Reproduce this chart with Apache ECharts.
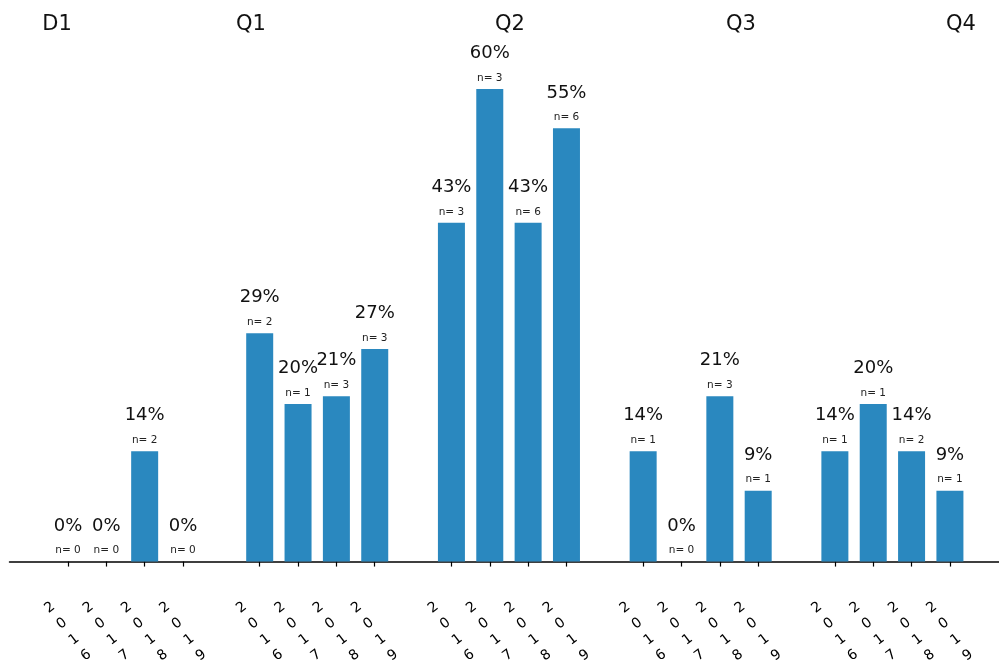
<!DOCTYPE html>
<html>
<head>
<meta charset="utf-8">
<script src="https://cdn.jsdelivr.net/npm/echarts@6/dist/echarts.min.js"></script>
<style>html,body{margin:0;padding:0;background:#fff}#c{width:999px;height:668px}</style>
</head>
<body>
<div id="c"></div>
<script>
const groups = ['D1', 'Q1', 'Q2', 'Q3', 'Q4'];
const years = ['2016', '2017', '2018', '2019'];
const pctD1 = [0, 0, 14, 0];
const pctQ1 = [29, 20, 21, 27];
const pctQ2 = [43, 60, 43, 55];
const pctQ3 = [14, 0, 21, 9];
const pctQ4 = [14, 20, 14, 9];
const nD1 = [0, 0, 2, 0];
const nQ1 = [2, 1, 3, 3];
const nQ2 = [3, 3, 6, 6];
const nQ3 = [1, 0, 3, 1];
const nQ4 = [1, 1, 2, 1];

const pctAll = [pctD1, pctQ1, pctQ2, pctQ3, pctQ4];
const nAll = [nD1, nQ1, nQ2, nQ3, nQ4];

// slot index: each group takes 4 bars plus one empty slot
const slotOf = function (gi, yi) { return gi * (years.length + 1) + yi; };
const data = [];
const ticks = [];
groups.forEach(function (g, gi) {
  years.forEach(function (y, yi) {
    const s = slotOf(gi, yi);
    ticks.push(s);
    data.push({ value: [s, pctAll[gi][yi]], n: nAll[gi][yi] });
  });
});

const chart = echarts.init(document.getElementById('c'));
chart.setOption({
  animation: false,
  backgroundColor: '#fff',
  textStyle: { fontFamily: 'DejaVu Sans' },
  grid: { left: 9.5, right: 0, top: 10.2, bottom: 106, containLabel: false },
  xAxis: {
    type: 'value',
    min: -1.525,
    max: 24.28,
    splitLine: { show: false },
    axisLine: { show: true, onZero: false, lineStyle: { color: '#000', width: 1.5 } },
    axisTick: {
      show: true,
      customValues: ticks,
      length: 5,
      lineStyle: { color: '#000', width: 1.2 }
    },
    axisLabel: {
      customValues: ticks,
      rotate: 37,
      align: 'center',
      verticalAlign: 'middle',
      margin: 70,
      fontSize: 14,
      lineHeight: 20,
      color: '#000',
      fontFamily: 'DejaVu Sans',
      showMinLabel: true,
      showMaxLabel: true,
      formatter: function (v) {
        const yi = Math.round(v) % (years.length + 1);
        return years[yi].split('').join('\n');
      }
    }
  },
  yAxis: { type: 'value', min: 0, max: 70, show: false, splitLine: { show: false } },
  graphic: groups.map(function (g, i) {
    const xs = [57, 251, 510, 741, 961];
    return {
      type: 'text', x: xs[i], y: 25,
      style: { text: g, align: 'center', verticalAlign: 'middle', font: '21px "DejaVu Sans"', fill: '#111' }
    };
  }),
  series: [{
    type: 'bar',
    data: data,
    barWidth: 27,
    itemStyle: { color: '#2a88bf' },
    label: {
      show: true,
      position: 'top',
      distance: 3,
      formatter: function (p) {
        return '{a|' + p.value[1] + '%}\n{b|n= ' + p.data.n + '}';
      },
      rich: {
        a: { fontSize: 18, lineHeight: 33, color: '#111', fontFamily: 'DejaVu Sans' },
        b: { fontSize: 10.5, lineHeight: 16, color: '#222', fontFamily: 'DejaVu Sans' }
      }
    }
  }]
});
</script>
</body>
</html>
